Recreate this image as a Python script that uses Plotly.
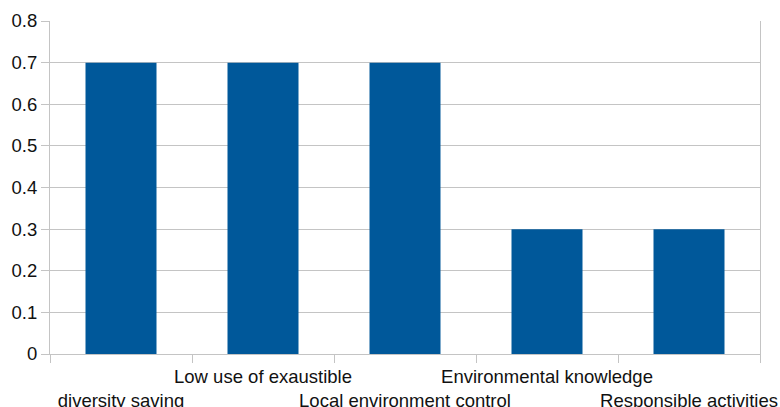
import plotly.graph_objects as go

# Categories and their scores
categories = [
    "diversity saving",
    "Low use of exaustible",
    "Local environment control",
    "Environmental knowledge",
    "Responsible activities",
]
scores = [0.7, 0.7, 0.7, 0.3, 0.3]

# Alternate labels between two rows so long names do not collide
tick_labels = [
    ("<br>" + c) if i % 2 == 0 else c for i, c in enumerate(categories)
]

bar_color = "#00589A"
grid_color = "#C4C4C4"
font_family = "Liberation Sans, Arial, sans-serif"

fig = go.Figure(
    go.Bar(
        x=categories,
        y=scores,
        marker=dict(color=bar_color, line=dict(width=0)),
        showlegend=False,
    )
)

fig.update_layout(
    width=780,
    height=407,
    margin=dict(l=50, r=20, t=21, b=53),
    paper_bgcolor="white",
    plot_bgcolor="white",
    bargap=0.5,
    font=dict(family=font_family, size=18.5, color="#111111"),
)

fig.update_xaxes(
    type="category",
    tickmode="array",
    tickvals=categories,
    ticktext=tick_labels,
    tickson="boundaries",
    ticks="outside",
    ticklen=8,
    tickcolor=grid_color,
    ticklabelstandoff=6,
    showgrid=False,
    showline=True,
    linecolor=grid_color,
    linewidth=1,
    tickangle=0,
    automargin=False,
)

fig.update_yaxes(
    range=[0, 0.8],
    dtick=0.1,
    tickformat="~g",
    ticks="outside",
    ticklen=8,
    tickcolor=grid_color,
    showgrid=True,
    gridcolor=grid_color,
    gridwidth=1,
    showline=True,
    linecolor=grid_color,
    linewidth=1,
    mirror=True,
    zeroline=False,
    automargin=False,
)

fig.write_html("out.html")
